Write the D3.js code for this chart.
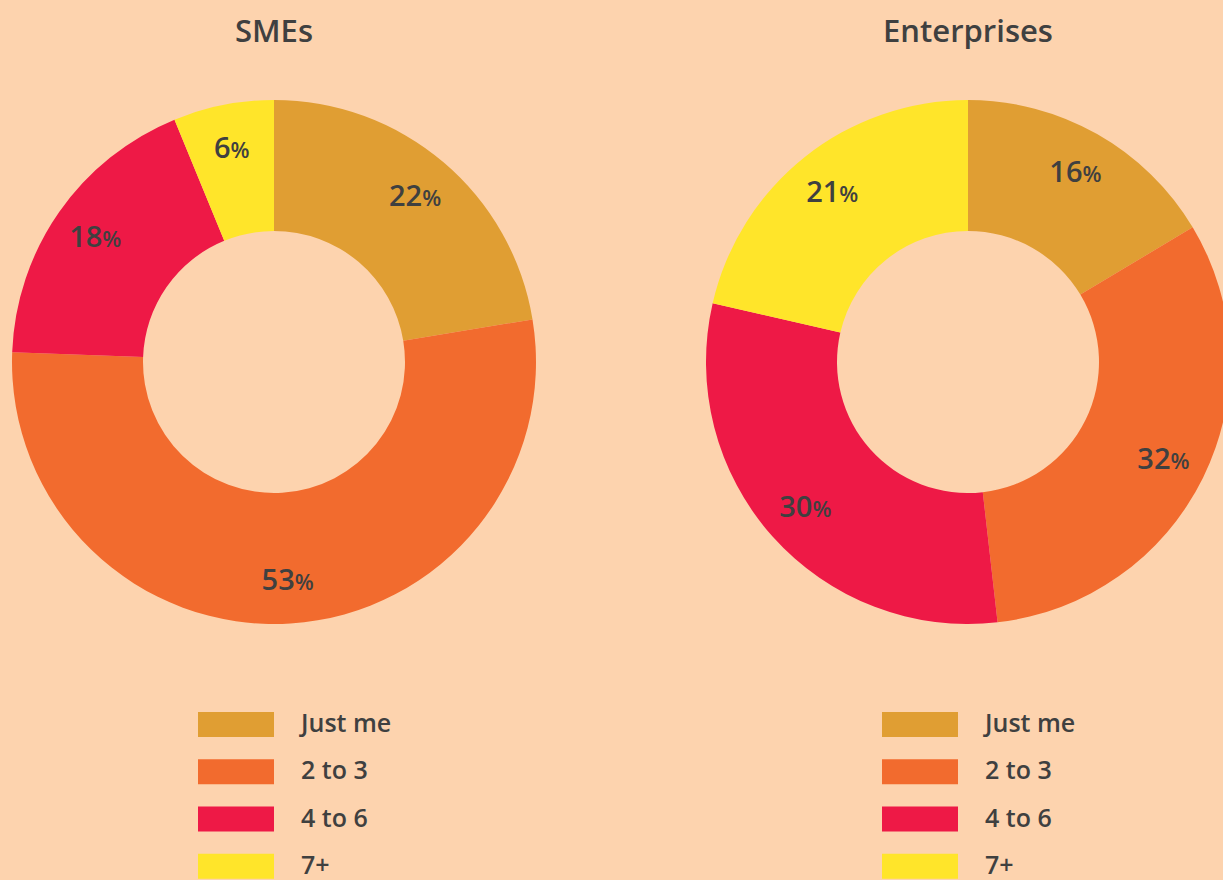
<!DOCTYPE html>
<html>
<head>
<meta charset="utf-8">
<script src="https://cdn.jsdelivr.net/npm/d3@7"></script>
<style>
  body { margin: 0; background: #FDD3AE; }
  svg { display: block; }
  text { font-family: "Open Sans", "Noto Sans", sans-serif; fill: #3f4040; }
</style>
</head>
<body>
<div id="chart"></div>
<script>
// categories shared by both donuts
let categories = ["Just me", "2 to 3", "4 to 6", "7+"];
let colours    = ["#E09E33", "#F26B2E", "#EE1946", "#FFE52A"];

// shares (percent)
let smeValues        = [22.4, 53.2, 18.2, 6.2];
let enterpriseValues = [16.4, 31.8, 30.4, 21.4];

let charts = [
  {title: "SMEs",        values: smeValues,        cx: 274, lx: 198},
  {title: "Enterprises", values: enterpriseValues, cx: 968, lx: 882}
];

let width  = 1223,
    height = 880;

let cy          = 362,
    outerRadius = 262,
    innerRadius = 131,
    labelRadius = 218;

let svg =
  d3.select("#chart")
    .append("svg")
      .attr("width", width)
      .attr("height", height);

let colour = d3.scaleOrdinal().domain(categories).range(colours);

let pie =
  d3.pie()
    .sort(null)
    .value(function(d) { return d.value; });

let arc = d3.arc().innerRadius(innerRadius).outerRadius(outerRadius);
let labelArc = d3.arc().innerRadius(labelRadius).outerRadius(labelRadius);

let legendY = d3.scaleBand()
  .domain(categories)
  .range([712, 901])
  .paddingInner(0);

charts.forEach(function(c) {
  let data = categories.map(function(k, i) { return {key: k, value: c.values[i]}; });

  svg.append("text")
    .attr("x", c.cx)
    .attr("y", 42)
    .attr("text-anchor", "middle")
    .style("font-size", "31px")
    .style("font-weight", 600)
    .text(c.title);

  let g = svg.append("g").attr("transform", translate(c.cx, cy));

  g.selectAll("path")
    .data(pie(data))
    .enter().append("path")
      .attr("fill", function(d) { return colour(d.data.key); })
      .attr("d", arc);

  let labels = g.selectAll(".lbl")
    .data(pie(data))
    .enter().append("text")
      .attr("class", "lbl")
      .attr("transform", function(d) { return translate(...labelArc.centroid(d)); })
      .attr("text-anchor", "middle")
      .attr("dy", "0.35em")
      .style("font-size", "29px")
      .style("font-weight", 600);

  labels.append("tspan").text(function(d) { return Math.round(d.data.value); });
  labels.append("tspan").style("font-size", "22px").text("%");

  let legend = svg.append("g");

  legend.selectAll("rect")
    .data(categories)
    .enter().append("rect")
      .attr("x", c.lx)
      .attr("y", function(d) { return legendY(d); })
      .attr("width", 76)
      .attr("height", 25)
      .attr("fill", function(d) { return colour(d); });

  legend.selectAll("text")
    .data(categories)
    .enter().append("text")
      .attr("x", c.lx + 103)
      .attr("y", function(d) { return legendY(d) + 20; })
      .style("font-size", "25px")
      .style("font-weight", 600)
      .text(function(d) { return d; });
});

function translate(x, y=0) {
  return "translate({x}, {y})"
          .replace("{x}", x)
          .replace("{y}", y);
}
</script>
</body>
</html>
